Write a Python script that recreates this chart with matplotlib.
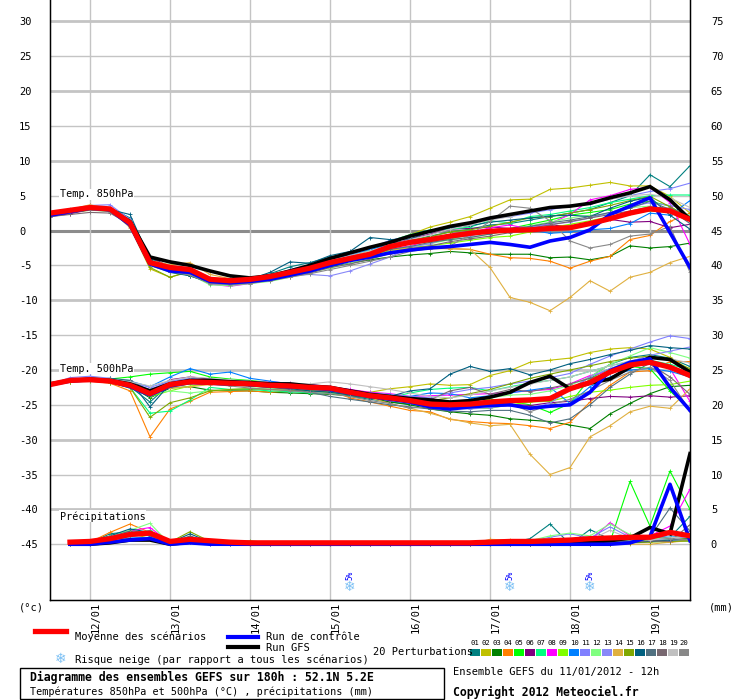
import numpy as np
import matplotlib.pyplot as plt
from matplotlib.lines import Line2D
from matplotlib.patches import Rectangle

# ------------------------------------------------------------
# data (6-hourly steps from 11/01 12h)
# ------------------------------------------------------------
HOURS = np.arange(33) * 6
HOURS_PR = np.arange(1, 33) * 6

DAY_LABELS = ["12/01", "13/01", "14/01", "15/01", "16/01", "17/01", "18/01", "19/01"]
DAY_HOURS = [12, 36, 60, 84, 108, 132, 156, 180]

PERT_COLORS = ["#008080", "#c0c000", "#008000", "#ff8000", "#00ff00",
               "#800080", "#00ff80", "#ff00ff", "#80ff00", "#0080ff",
               "#8080ff", "#80ff80", "#8888f8", "#e0b040", "#80a800",
               "#006080", "#507080", "#786870", "#c0c0c0", "#888888"]

# --- T850 ---
t850_mean = [2.5, 2.9, 3.3, 3.1, 1.1, -4.6, -5.3, -5.6, -7.0, -7.2, -7.0, -6.6, -6.0, -5.4, -4.6, -4.0, -3.4,
             -2.3, -1.7, -1.3, -0.8, -0.4, -0.1, 0.05, 0.1, 0.3, 0.4, 1.0, 1.7, 2.5, 3.1, 2.8, 1.6]
t850_ctrl = [2.2, 2.7, 3.2, 3.0, 0.8, -4.8, -5.8, -6.0, -7.3, -7.5, -7.3, -7.0, -6.4, -5.8, -5.0, -4.3, -3.8,
             -3.2, -2.8, -2.5, -2.3, -2.0, -1.7, -2.0, -2.4, -1.5, -1.0, 0.1, 2.3, 3.5, 4.7, -0.3, -5.3]
t850_gfs = [2.3, 2.8, 3.3, 3.0, 1.3, -3.8, -4.5, -5.0, -5.8, -6.5, -6.8, -6.5, -5.8, -5.0, -4.0, -3.2, -2.4,
            -1.7, -0.8, -0.1, 0.6, 1.1, 1.8, 2.3, 2.8, 3.3, 3.5, 3.9, 4.7, 5.4, 6.3, 4.4, 1.6]
t850_p01 = [2.6, 3.0, 3.4, 3.3, 1.8, -4.0, -5.2, -5.5, -7.2, -7.4, -7.0, -6.2, -5.2, -4.6, -3.8, -3.2, -2.6,
            -1.8, -1.5, -0.8, -0.2, 0.2, 0.8, 1.0, 1.5, 2.0, 2.5, 3.0, 4.0, 5.0, 8.0, 6.3, 9.3]
t850_p02 = [2.4, 2.8, 3.5, 3.0, 0.5, -5.5, -6.7, -5.8, -7.3, -7.6, -7.2, -6.8, -6.2, -5.5, -4.5, -3.8, -2.8,
            -1.6, -0.6, 0.5, 1.2, 2.0, 3.2, 4.4, 4.5, 5.9, 6.1, 6.5, 6.9, 6.4, 6.4, 4.9, 2.5]
t850_p03 = [2.3, 2.7, 3.1, 2.8, 0.8, -4.9, -5.7, -6.5, -7.4, -7.6, -7.3, -7.0, -6.5, -5.9, -5.2, -4.7, -4.2,
            -3.8, -3.5, -3.3, -3.0, -3.2, -3.4, -3.4, -3.4, -3.9, -3.8, -4.2, -3.7, -2.2, -2.5, -2.3, -1.8]
t850_p04 = [2.4, 2.9, 3.6, 3.2, 0.6, -4.3, -5.0, -5.4, -6.8, -7.0, -6.9, -6.8, -6.3, -5.8, -4.9, -4.0, -3.2,
            -2.8, -2.6, -2.5, -2.6, -2.7, -3.4, -3.9, -4.0, -4.4, -5.4, -4.4, -3.7, -1.3, -0.7, 1.3, 2.5]
t850_p05 = [2.2, 2.7, 3.2, 3.0, 1.0, -4.8, -5.6, -6.0, -7.5, -7.8, -7.5, -7.0, -6.2, -5.6, -4.8, -4.0, -3.1,
            -2.4, -1.8, -1.6, -1.2, -0.6, -0.2, 0.3, 0.9, 1.5, 2.2, 2.6, 3.0, 3.8, 4.2, 3.5, 1.5]
t850_p06 = [2.0, 2.4, 3.0, 3.0, 1.5, -3.8, -5.2, -5.8, -7.1, -7.3, -7.1, -6.6, -6.0, -5.1, -4.4, -3.4, -2.6,
            -2.1, -1.2, -0.5, 0.2, 0.3, 0.5, 0.3, 0.6, 0.8, 0.6, 1.2, 1.6, 1.2, 1.3, 0.4, 0.9]
t850_p07 = [2.1, 2.6, 3.0, 2.9, 0.9, -4.5, -5.7, -5.4, -7.6, -7.8, -7.4, -7.0, -6.3, -5.3, -4.4, -3.6, -2.8,
            -1.5, -0.6, 0.1, 0.2, 0.5, 1.4, 1.1, 2.0, 2.3, 2.8, 3.3, 4.0, 4.5, 5.0, 5.1, 5.1]
t850_p08 = [2.3, 2.8, 3.2, 3.0, 1.2, -4.8, -5.9, -6.2, -7.7, -8.0, -7.6, -7.0, -6.4, -5.8, -4.9, -4.3, -3.6,
            -2.7, -2.2, -1.4, -0.9, -0.3, 0.4, 0.8, 0.2, 1.0, 2.3, 4.4, 5.0, 5.9, 6.2, 4.0, -2.0]
t850_p09 = [2.4, 2.8, 3.2, 2.9, 0.9, -4.7, -5.5, -6.1, -7.4, -7.7, -7.3, -6.9, -6.2, -5.6, -4.8, -4.1, -3.5,
            -2.9, -2.4, -2.2, -1.8, -1.4, -1.0, -0.8, -0.2, 0.4, 0.9, 1.4, 2.0, 2.5, 2.8, 2.6, 2.0]
t850_p10 = [2.3, 2.9, 3.3, 3.1, 1.3, -4.4, -5.3, -5.7, -6.9, -7.1, -6.9, -6.5, -5.8, -5.2, -4.2, -3.6, -2.7,
            -2.1, -1.5, -1.0, -0.6, -0.1, 0.0, -0.2, 0.1, -0.4, -0.2, 0.1, 0.3, 1.0, 2.5, 2.2, 4.3]
t850_p11 = [2.4, 3.0, 3.6, 3.7, 1.6, -4.2, -5.4, -5.3, -7.0, -7.4, -7.2, -6.7, -5.6, -4.9, -4.1, -3.3, -2.5,
            -1.4, -0.8, -0.2, 0.4, 1.0, 1.6, 2.0, 2.5, 3.0, 3.5, 3.8, 4.5, 5.0, 5.6, 6.0, 6.8]
t850_p12 = [2.2, 2.6, 3.1, 2.7, 0.6, -5.0, -6.0, -6.3, -7.8, -7.9, -7.6, -7.3, -6.7, -6.0, -5.4, -4.7, -3.9,
            -3.0, -2.3, -1.9, -1.3, -1.0, -0.5, 0.0, 0.7, 1.2, 1.8, 2.2, 2.4, 3.3, 3.5, 3.0, 2.2]
t850_p13 = [2.3, 2.7, 3.1, 3.2, 1.4, -4.5, -5.5, -5.9, -7.2, -7.6, -7.4, -6.9, -6.5, -6.3, -6.5, -5.8, -4.8,
            -3.8, -2.4, -1.9, -1.0, -0.8, -0.1, 0.2, 0.5, 0.9, 1.2, 1.8, 2.6, 3.4, 4.0, 3.6, 3.0]
t850_p14 = [2.5, 3.0, 3.7, 3.1, 0.4, -4.3, -4.9, -4.6, -6.3, -6.9, -6.8, -6.5, -6.2, -5.6, -5.0, -4.0, -3.2,
            -2.8, -2.5, -2.6, -2.6, -2.7, -5.3, -9.6, -10.3, -11.5, -9.6, -7.2, -8.7, -6.7, -6.0, -4.6, -3.7]
t850_p15 = [2.2, 2.6, 2.9, 2.8, 0.7, -5.3, -6.7, -5.9, -7.2, -7.5, -7.2, -6.8, -6.2, -5.5, -4.6, -4.0, -3.3,
            -2.2, -1.4, -0.9, -0.2, 0.1, 0.6, 1.2, 1.8, 2.0, 2.5, 3.0, 3.6, 4.3, 4.9, 3.4, 1.8]
t850_p16 = [2.6, 3.0, 3.2, 3.0, 2.3, -4.1, -6.0, -6.5, -7.5, -7.6, -7.0, -6.0, -4.5, -4.7, -3.6, -3.0, -1.0,
            -1.3, -1.2, -0.2, 0.4, 0.7, 1.2, 1.5, 1.8, 2.1, 2.2, 2.0, 3.2, 4.2, 4.8, 2.2, 0.2]
t850_p17 = [2.3, 2.8, 3.1, 3.1, 1.2, -4.6, -5.5, -6.0, -7.3, -7.5, -7.2, -6.8, -6.1, -5.5, -4.7, -4.1, -3.5,
            -2.7, -2.3, -1.7, -1.3, -1.0, -0.5, 0.1, 0.6, 1.1, 1.5, 2.0, 2.6, 3.2, 4.2, 3.0, 1.0]
t850_p18 = [2.0, 2.3, 2.6, 2.5, 0.9, -4.9, -5.8, -6.2, -7.4, -7.7, -7.5, -7.1, -6.6, -6.1, -5.3, -4.8, -4.1,
            -3.3, -2.6, -2.2, -1.6, -1.2, -0.8, -0.3, 0.3, 0.8, 1.3, 1.8, 2.3, 2.8, 3.4, 3.2, 2.0]
t850_p19 = [2.6, 3.1, 3.5, 3.3, 1.5, -4.4, -5.1, -5.3, -6.8, -7.1, -6.8, -6.4, -5.8, -5.1, -4.3, -3.6, -2.9,
            -2.1, -1.3, -0.6, 0.2, 0.8, 1.5, 2.0, 2.8, 3.2, 3.5, 4.0, 4.5, 5.0, 5.2, 4.7, 3.3]
t850_p20 = [2.4, 2.8, 3.0, 2.7, 0.7, -5.0, -5.9, -6.4, -7.6, -7.8, -7.6, -7.2, -6.7, -6.2, -5.6, -5.0, -4.4,
            -3.8, -3.0, -2.6, -2.2, -0.6, 1.3, 3.5, 3.2, 1.4, -1.5, -2.5, -2.0, -0.8, -0.5, 0.6, -6.0]

# --- T500 ---
t500_mean = [-22.1, -21.5, -21.4, -21.6, -22.2, -23.4, -22.1, -21.7, -21.8, -21.9, -22.0, -22.2, -22.3,
             -22.5, -22.6, -23.2, -23.7, -24.0, -24.4, -24.9, -25.0, -24.9, -24.6, -24.4, -24.3, -24.1,
             -22.7, -21.8, -20.3, -19.3, -18.9, -19.6, -20.8]
t500_ctrl = [-22.1, -21.6, -21.4, -21.6, -22.4, -23.6, -22.3, -21.8, -21.9, -22.0, -22.1, -22.3, -22.4,
             -22.6, -22.8, -23.3, -23.8, -24.2, -24.6, -25.3, -25.6, -25.3, -25.1, -25.0, -25.5, -25.2,
             -25.0, -23.2, -20.1, -18.9, -18.4, -22.5, -25.8]
t500_gfs = [-22.0, -21.5, -21.3, -21.5, -22.0, -23.0, -22.0, -21.5, -21.5, -21.7, -21.8, -22.0, -22.0,
            -22.3, -22.5, -23.0, -23.5, -23.8, -24.1, -24.3, -24.6, -24.4, -23.9, -23.2, -21.8, -20.9,
            -22.7, -21.9, -21.3, -19.6, -18.2, -18.5, -20.3]
t500_p01 = [-22.0, -21.4, -21.2, -21.5, -22.4, -24.6, -22.0, -21.3, -21.5, -21.6, -21.8, -22.0, -22.4,
            -22.9, -23.2, -23.8, -24.2, -24.6, -24.9, -25.3, -25.6, -25.2, -25.0, -24.7, -24.4, -24.5,
            -22.8, -21.0, -19.2, -18.2, -17.8, -18.3, -19.5]
t500_p02 = [-22.2, -21.6, -21.4, -21.8, -22.3, -23.0, -22.5, -22.0, -21.6, -21.8, -22.0, -22.3, -22.6,
            -22.8, -22.5, -22.9, -23.2, -22.7, -22.4, -22.0, -22.2, -22.1, -20.8, -20.1, -18.9, -18.6,
            -18.3, -17.5, -17.0, -16.8, -17.0, -18.2, -20.0]
t500_p03 = [-22.2, -21.7, -21.6, -21.7, -22.3, -24.0, -22.6, -22.4, -22.9, -23.0, -23.0, -23.2, -23.3,
            -23.4, -23.5, -23.7, -24.0, -24.6, -25.0, -25.6, -26.0, -26.3, -26.5, -27.0, -27.2, -27.4,
            -27.9, -28.4, -26.3, -24.8, -23.4, -22.4, -22.2]
t500_p04 = [-22.1, -21.7, -21.6, -21.9, -23.0, -29.6, -25.6, -24.5, -23.2, -23.1, -23.0, -23.2, -23.0,
            -22.8, -23.0, -24.0, -24.6, -25.2, -25.8, -26.0, -27.1, -27.4, -27.6, -27.7, -28.0, -28.4,
            -27.5, -24.6, -22.2, -20.3, -20.1, -18.8, -18.8]
t500_p05 = [-22.0, -21.4, -21.2, -21.3, -21.0, -20.6, -20.4, -20.2, -21.0, -21.3, -21.5, -21.8, -22.0,
            -22.4, -22.6, -23.0, -23.4, -23.6, -24.0, -24.6, -25.0, -24.3, -24.2, -24.5, -25.0, -26.1,
            -24.8, -21.2, -19.8, -19.5, -19.8, -23.0, -25.8]
t500_p06 = [-22.1, -21.5, -21.3, -21.5, -22.0, -23.2, -21.4, -21.0, -21.3, -21.5, -21.7, -22.0, -22.2,
            -22.4, -22.7, -23.2, -23.6, -23.7, -24.0, -24.2, -24.5, -24.8, -24.7, -24.9, -25.1, -24.7,
            -24.5, -24.1, -23.8, -23.9, -23.7, -23.9, -23.7]
t500_p07 = [-22.2, -21.6, -21.5, -21.7, -22.5, -26.2, -25.9, -24.3, -22.5, -22.8, -22.8, -23.0, -23.1,
            -23.3, -23.3, -23.4, -23.8, -24.0, -23.3, -22.8, -22.6, -22.5, -23.0, -22.4, -21.9, -21.5,
            -21.0, -20.2, -19.4, -18.8, -18.6, -19.2, -20.0]
t500_p08 = [-22.0, -21.5, -21.3, -21.5, -22.0, -23.5, -22.0, -21.4, -21.5, -21.6, -21.8, -21.7, -21.9,
            -22.1, -22.4, -22.8, -23.2, -23.4, -23.8, -23.7, -23.6, -23.5, -23.4, -23.2, -23.0, -22.8,
            -22.0, -20.8, -20.2, -19.3, -19.0, -19.8, -24.5]
t500_p09 = [-22.1, -21.5, -21.4, -21.6, -22.2, -23.8, -23.0, -22.3, -22.0, -22.2, -22.3, -22.5, -22.6,
            -22.8, -23.0, -23.3, -23.7, -24.2, -24.5, -24.9, -25.2, -25.5, -25.5, -25.0, -24.6, -24.5,
            -23.8, -23.2, -22.9, -22.5, -22.2, -22.1, -21.6]
t500_p10 = [-22.0, -21.4, -21.2, -21.3, -21.6, -22.4, -21.0, -19.8, -20.6, -20.3, -21.2, -21.6, -22.0,
            -22.4, -23.0, -23.6, -24.0, -24.0, -23.8, -23.3, -23.4, -24.0, -23.7, -23.3, -22.9, -22.5,
            -24.8, -22.4, -21.0, -20.0, -19.8, -20.2, -21.0]
t500_p11 = [-22.1, -21.1, -20.9, -21.2, -21.8, -22.5, -21.6, -21.2, -21.5, -21.7, -21.8, -22.0, -22.1,
            -22.3, -22.5, -23.0, -23.3, -23.5, -23.8, -24.0, -23.3, -22.8, -22.5, -22.0, -21.6, -21.1,
            -20.5, -19.2, -18.0, -17.0, -16.0, -15.1, -15.5]
t500_p12 = [-22.2, -21.6, -21.6, -21.8, -22.6, -23.5, -23.0, -23.3, -23.0, -22.8, -22.6, -22.6, -22.7,
            -22.9, -23.3, -23.5, -24.0, -24.2, -24.3, -24.4, -24.6, -24.3, -24.0, -23.6, -23.5, -23.0,
            -22.2, -21.0, -19.2, -18.0, -16.8, -17.5, -18.3]
t500_p13 = [-22.1, -21.5, -21.3, -21.4, -21.9, -22.8, -21.6, -21.4, -21.6, -21.8, -21.9, -22.0, -22.2,
            -22.4, -22.6, -23.1, -23.6, -24.1, -24.8, -25.2, -25.5, -25.6, -25.4, -25.1, -25.5, -24.8,
            -22.8, -21.0, -19.8, -18.8, -17.9, -17.3, -16.7]
t500_p14 = [-22.1, -21.6, -21.5, -21.7, -22.3, -23.0, -22.6, -22.4, -22.1, -22.0, -21.9, -22.1, -22.3,
            -22.6, -22.9, -23.4, -24.0, -24.8, -25.5, -26.2, -27.0, -27.6, -28.0, -27.8, -32.1, -35.0,
            -34.0, -29.6, -28.0, -26.0, -25.2, -25.5, -22.7]
t500_p15 = [-22.2, -21.7, -21.5, -21.8, -22.5, -26.8, -24.7, -24.0, -23.0, -22.8, -22.7, -22.8, -22.9,
            -23.0, -23.2, -23.5, -23.8, -24.2, -24.6, -24.4, -24.0, -23.4, -22.8, -22.0, -21.2, -20.6,
            -20.0, -19.4, -18.8, -18.3, -18.0, -18.6, -19.8]
t500_p16 = [-22.1, -21.5, -21.4, -21.2, -21.5, -25.3, -22.0, -21.6, -21.8, -21.9, -22.2, -22.4, -22.7,
            -23.0, -23.2, -23.6, -24.0, -23.8, -23.0, -22.7, -20.6, -19.5, -20.2, -19.8, -20.7, -20.0,
            -19.1, -18.5, -17.8, -17.2, -16.5, -16.8, -17.0]
t500_p17 = [-22.1, -21.5, -21.3, -21.4, -21.5, -23.0, -21.8, -21.6, -21.8, -22.0, -22.3, -22.5, -22.8,
            -23.2, -23.8, -24.2, -24.6, -25.0, -25.3, -25.6, -25.9, -26.0, -25.8, -25.8, -26.5, -27.6,
            -27.0, -25.0, -22.5, -20.6, -19.0, -19.5, -20.4]
t500_p18 = [-22.0, -21.5, -21.4, -21.6, -22.1, -23.2, -22.0, -21.7, -21.8, -22.0, -22.1, -22.3, -22.4,
            -22.6, -22.8, -23.4, -23.9, -24.4, -24.6, -24.3, -23.0, -22.5, -23.5, -22.8, -23.1, -22.6,
            -22.0, -21.2, -20.4, -19.5, -19.2, -21.0, -23.5]
t500_p19 = [-22.1, -21.4, -21.1, -21.3, -21.7, -22.3, -21.5, -21.0, -21.2, -21.4, -21.6, -21.8, -21.9,
            -22.0, -21.7, -22.0, -22.4, -22.8, -23.3, -23.8, -24.0, -23.6, -23.0, -22.5, -22.0, -21.5,
            -21.0, -20.2, -19.4, -18.7, -18.2, -18.4, -19.0]
t500_p20 = [-22.2, -21.6, -21.5, -21.7, -22.0, -23.0, -21.8, -21.6, -22.0, -22.3, -22.6, -22.8, -23.0,
            -23.2, -23.4, -23.8, -24.4, -24.8, -25.5, -25.2, -25.1, -24.8, -24.4, -24.8, -26.0, -25.0,
            -24.2, -23.0, -21.5, -20.3, -19.6, -21.5, -25.9]

# --- precipitation (mm, from +6h) ---
pr_mean = [0.3, 0.4, 0.8, 1.4, 1.6, 0.4, 0.7, 0.5, 0.3, 0.2, 0.2, 0.2, 0.2, 0.2, 0.2, 0.2,
           0.2, 0.2, 0.2, 0.2, 0.2, 0.3, 0.4, 0.4, 0.5, 0.6, 0.8, 0.9, 1.0, 1.0, 1.7, 1.2]
pr_ctrl = [0.0, 0.0, 0.3, 0.6, 0.8, 0.0, 0.2, 0.0, 0.0, 0.0, 0.0, 0.0, 0.0, 0.0, 0.0, 0.0,
           0.0, 0.0, 0.0, 0.0, 0.0, 0.0, 0.0, 0.0, 0.0, 0.0, 0.0, 0.0, 0.2, 1.1, 8.6, 0.5]
pr_gfs = [0.0, 0.0, 0.2, 0.6, 0.6, 0.0, 0.3, 0.2, 0.1, 0.0, 0.0, 0.0, 0.0, 0.0, 0.0, 0.0,
          0.0, 0.0, 0.0, 0.0, 0.0, 0.0, 0.0, 0.0, 0.0, 0.0, 0.3, 0.5, 0.9, 2.4, 1.5, 13.0]
pr_p01 = [0.0, 0.2, 1.5, 1.8, 1.2, 0.2, 0.6, 0.3, 0.2, 0.0, 0.0, 0.0, 0.0, 0.0, 0.0, 0.0,
          0.0, 0.0, 0.0, 0.0, 0.0, 0.0, 0.2, 0.8, 2.9, 0.0, 2.1, 0.7, 0.5, 0.6, 1.0, 4.0]
pr_p02 = [0.0, 0.3, 1.0, 1.6, 0.8, 0.2, 0.4, 0.2, 0.1, 0.0, 0.0, 0.0, 0.0, 0.0, 0.0, 0.0,
          0.0, 0.0, 0.0, 0.0, 0.0, 0.0, 0.0, 0.0, 0.0, 0.0, 0.0, 0.3, 0.2, 0.4, 0.6, 0.9]
pr_p03 = [0.0, 0.2, 0.9, 1.4, 1.5, 0.0, 0.5, 0.2, 0.0, 0.0, 0.0, 0.0, 0.0, 0.0, 0.0, 0.0,
          0.0, 0.0, 0.0, 0.0, 0.0, 0.0, 0.0, 0.0, 0.0, 0.0, 0.2, 0.3, 0.2, 0.5, 0.3, 0.8]
pr_p04 = [0.0, 0.3, 1.7, 2.9, 1.7, 0.3, 0.7, 0.3, 0.2, 0.1, 0.0, 0.0, 0.0, 0.0, 0.0, 0.0,
          0.0, 0.0, 0.0, 0.0, 0.0, 0.0, 0.0, 0.0, 0.0, 0.0, 0.0, 0.2, 0.4, 0.5, 0.3, 0.6]
pr_p05 = [0.0, 0.2, 1.0, 1.5, 1.6, 0.2, 0.6, 0.2, 0.0, 0.0, 0.0, 0.0, 0.0, 0.0, 0.0, 0.0,
          0.0, 0.0, 0.0, 0.0, 0.0, 0.0, 0.0, 0.0, 0.0, 0.0, 0.0, 0.3, 9.0, 2.6, 10.5, 5.0]
pr_p06 = [0.0, 0.1, 0.6, 1.2, 1.3, 0.0, 0.3, 0.1, 0.0, 0.0, 0.0, 0.0, 0.0, 0.0, 0.0, 0.0,
          0.0, 0.0, 0.0, 0.0, 0.0, 0.0, 0.0, 0.0, 0.0, 0.0, 0.0, 0.0, 0.3, 0.4, 0.5, 0.7]
pr_p07 = [0.0, 0.2, 0.8, 1.3, 2.0, 0.0, 0.4, 0.3, 0.0, 0.0, 0.0, 0.0, 0.0, 0.0, 0.0, 0.0,
          0.0, 0.0, 0.0, 0.0, 0.0, 0.0, 0.0, 0.0, 0.2, 0.3, 0.2, 0.4, 0.6, 0.8, 0.5, 0.4]
pr_p08 = [0.0, 0.3, 1.1, 1.9, 2.4, 0.2, 0.6, 0.2, 0.0, 0.0, 0.0, 0.0, 0.0, 0.0, 0.0, 0.0,
          0.0, 0.0, 0.0, 0.0, 0.0, 0.0, 0.0, 0.0, 0.0, 0.3, 0.5, 3.1, 1.2, 1.2, 2.6, 7.9]
pr_p09 = [0.0, 0.2, 0.9, 1.5, 1.8, 0.1, 0.5, 0.3, 0.1, 0.0, 0.0, 0.0, 0.0, 0.0, 0.0, 0.0,
          0.0, 0.0, 0.0, 0.0, 0.0, 0.0, 0.0, 0.0, 0.0, 0.0, 0.2, 0.4, 0.3, 0.6, 0.8, 1.5]
pr_p10 = [0.0, 0.0, 0.7, 0.9, 1.0, 0.0, 0.3, 0.1, 0.0, 0.0, 0.0, 0.0, 0.0, 0.0, 0.0, 0.0,
          0.0, 0.0, 0.0, 0.0, 0.0, 0.0, 0.0, 0.0, 0.0, 0.0, 0.0, 0.0, 0.6, 1.2, 1.0, 1.3]
pr_p11 = [0.0, 0.2, 1.0, 1.6, 1.9, 0.1, 0.5, 0.2, 0.0, 0.0, 0.0, 0.0, 0.0, 0.0, 0.0, 0.0,
          0.0, 0.0, 0.0, 0.0, 0.0, 0.0, 0.0, 0.4, 1.0, 1.5, 0.9, 2.5, 1.0, 0.6, 0.8, 1.1]
pr_p12 = [0.0, 0.3, 1.2, 2.0, 3.0, 0.0, 0.4, 0.2, 0.0, 0.0, 0.0, 0.0, 0.0, 0.0, 0.0, 0.0,
          0.0, 0.0, 0.0, 0.0, 0.0, 0.0, 0.0, 0.5, 1.2, 1.6, 1.2, 2.9, 1.4, 0.8, 0.9, 1.3]
pr_p13 = [0.0, 0.1, 0.8, 1.2, 1.4, 0.0, 0.4, 0.1, 0.0, 0.0, 0.0, 0.0, 0.0, 0.0, 0.0, 0.0,
          0.0, 0.0, 0.0, 0.0, 0.0, 0.0, 0.0, 0.0, 0.0, 0.0, 0.0, 0.2, 0.3, 0.4, 0.5, 0.7]
pr_p14 = [0.0, 0.2, 0.9, 1.4, 1.5, 0.4, 0.6, 0.5, 0.3, 0.2, 0.0, 0.0, 0.0, 0.0, 0.0, 0.0,
          0.0, 0.0, 0.0, 0.0, 0.0, 0.7, 0.6, 0.2, 0.0, 0.0, 0.0, 0.0, 0.0, 0.0, 0.3, 0.5]
pr_p15 = [0.0, 0.2, 0.9, 1.5, 1.6, 0.3, 1.8, 0.4, 0.2, 0.5, 0.2, 0.0, 0.0, 0.0, 0.0, 0.0,
          0.0, 0.0, 0.0, 0.0, 0.0, 0.0, 0.0, 0.0, 0.0, 0.0, 0.0, 0.0, 0.2, 0.3, 0.4, 0.5]
pr_p16 = [0.0, 0.3, 1.2, 2.2, 1.7, 0.2, 1.5, 0.3, 0.2, 0.0, 0.0, 0.0, 0.0, 0.0, 0.0, 0.0,
          0.0, 0.0, 0.0, 0.0, 0.0, 0.0, 0.0, 0.0, 0.0, 0.0, 0.0, 0.2, 0.3, 0.4, 0.6, 0.8]
pr_p17 = [0.0, 0.2, 1.0, 1.9, 1.7, 0.1, 1.2, 0.2, 0.0, 0.0, 0.0, 0.0, 0.0, 0.0, 0.0, 0.0,
          0.0, 0.0, 0.0, 0.0, 0.0, 0.0, 0.0, 0.0, 0.0, 0.0, 0.0, 0.3, 0.5, 1.0, 5.2, 1.9]
pr_p18 = [0.0, 0.1, 0.8, 1.2, 1.3, 0.0, 0.4, 0.2, 0.0, 0.0, 0.0, 0.0, 0.0, 0.0, 0.0, 0.0,
          0.0, 0.0, 0.0, 0.0, 0.0, 0.0, 0.0, 0.0, 0.0, 0.0, 0.0, 0.2, 0.3, 0.5, 0.4, 2.8]
pr_p19 = [0.0, 0.2, 1.1, 1.6, 1.8, 0.1, 0.5, 0.2, 0.0, 0.0, 0.0, 0.0, 0.0, 0.0, 0.0, 0.0,
          0.0, 0.0, 0.0, 0.0, 0.0, 0.0, 0.0, 0.3, 0.5, 0.7, 0.6, 2.0, 0.8, 0.6, 0.9, 1.2]
pr_p20 = [0.0, 0.2, 0.9, 1.6, 1.9, 0.1, 0.5, 0.2, 0.0, 0.0, 0.0, 0.0, 0.0, 0.0, 0.0, 0.0,
          0.0, 0.0, 0.0, 0.0, 0.0, 0.0, 0.0, 0.0, 0.0, 0.0, 0.0, 0.4, 0.6, 1.1, 0.8, 0.6]

# snow risk (hour, percent)
SNOW_HOURS = [90, 138, 162]
SNOW_PCT = [5, 5, 5]

PR_OFFSET = -45.0   # precipitation drawn on the degC scale, 0 mm at -45

T850_PERTS = [t850_p01, t850_p02, t850_p03, t850_p04, t850_p05, t850_p06, t850_p07, t850_p08, t850_p09,
              t850_p10, t850_p11, t850_p12, t850_p13, t850_p14, t850_p15, t850_p16, t850_p17, t850_p18,
              t850_p19, t850_p20]
T500_PERTS = [t500_p01, t500_p02, t500_p03, t500_p04, t500_p05, t500_p06, t500_p07, t500_p08, t500_p09,
              t500_p10, t500_p11, t500_p12, t500_p13, t500_p14, t500_p15, t500_p16, t500_p17, t500_p18,
              t500_p19, t500_p20]
PR_PERTS = [pr_p01, pr_p02, pr_p03, pr_p04, pr_p05, pr_p06, pr_p07, pr_p08, pr_p09, pr_p10,
            pr_p11, pr_p12, pr_p13, pr_p14, pr_p15, pr_p16, pr_p17, pr_p18, pr_p19, pr_p20]

MONO = "DejaVu Sans Mono"
W, H = 740, 700


def fx(px):
    return px / W


def fy(py):
    return 1 - py / H


# ------------------------------------------------------------
# figure
# ------------------------------------------------------------
fig = plt.figure(figsize=(W / 100, H / 100), dpi=100)
fig.patch.set_facecolor("white")
ax = fig.add_axes([fx(50), fy(600), fx(640), 600 / H])

ax.set_xlim(0, 192)
ax.set_ylim(-53.0, 33.07)

# grid
for v in range(-45, 31, 5):
    if v == 0:
        ax.axhline(v, color="#8c8c8c", lw=2.2, zorder=1)
    elif v % 10 == 0:
        ax.axhline(v, color="#c4c4c4", lw=2.0, zorder=1)
    else:
        ax.axhline(v, color="#c4c4c4", lw=1.0, zorder=1)
for h in DAY_HOURS:
    ax.axvline(h, color="#c4c4c4", lw=1.0, zorder=1)

# section labels
for txt, v in [("Temp. 850hPa", 5.2), ("Temp. 500hPa", -19.8), ("Précipitations", -41.0)]:
    ax.text(3, v, txt, fontsize=7.3, family=MONO, va="center", ha="left", zorder=2,
            bbox=dict(facecolor="white", edgecolor="none", pad=0.5))

# perturbations
for i, col in enumerate(PERT_COLORS):
    kw = dict(color=col, lw=0.8, marker="+", ms=3, mew=0.6, zorder=3)
    ax.plot(HOURS, T850_PERTS[i], **kw)
    ax.plot(HOURS, T500_PERTS[i], **kw)
    ax.plot(HOURS_PR, np.array(PR_PERTS[i]) + PR_OFFSET, **kw)

# GFS, control, mean
for series, hrs, off in [(t850_gfs, HOURS, 0), (t500_gfs, HOURS, 0), (pr_gfs, HOURS_PR, PR_OFFSET)]:
    ax.plot(hrs, np.array(series) + off, color="black", lw=2.6, zorder=4, solid_joinstyle="miter")
for series, hrs, off in [(t850_ctrl, HOURS, 0), (t500_ctrl, HOURS, 0), (pr_ctrl, HOURS_PR, PR_OFFSET)]:
    ax.plot(hrs, np.array(series) + off, color="#0000ff", lw=2.6, zorder=5)
for series, hrs, off in [(t850_mean, HOURS, 0), (t500_mean, HOURS, 0), (pr_mean, HOURS_PR, PR_OFFSET)]:
    ax.plot(hrs, np.array(series) + off, color="#ff0000", lw=3.8, zorder=6)

# snow risk
for h, p in zip(SNOW_HOURS, SNOW_PCT):
    ax.text(h, -51.1, "\u2744", color="#7cc0f4", fontsize=10, ha="center", va="center",
            family="DejaVu Sans", fontweight="bold", zorder=7)
    ax.text(h, -49.4, f"{p}%", color="#0000ff", fontsize=5.5, rotation=90, ha="center",
            va="center", family=MONO, zorder=7)

# axes style
for side in ["left", "bottom", "right"]:
    ax.spines[side].set_color("black")
    ax.spines[side].set_linewidth(1.0)
ax.spines["top"].set_visible(False)

yt = list(range(-45, 31, 5))
ax.set_yticks(yt)
ax.set_yticklabels([str(v) for v in yt], family=MONO, fontsize=7.5, ha="left")
ax.tick_params(axis="y", length=0, pad=22.3)
ax.set_xticks([])

ax2 = ax.twinx()
ax2.set_ylim(ax.get_ylim())
ax2.set_yticks(yt)
ax2.set_yticklabels([str(v + 45) for v in yt], family=MONO, fontsize=7.5)
ax2.tick_params(axis="y", length=0, pad=15)
ax2.spines["top"].set_visible(False)
ax2.set_xticks([])

# date labels
for lab, h in zip(DAY_LABELS, DAY_HOURS):
    xpix = 50 + h * 640 / 192
    fig.text(fx(xpix + 6), fy(602), lab, rotation=90, ha="center", va="top",
             fontsize=7.5, family=MONO)
fig.text(fx(31), fy(607), "(°c)", ha="center", va="center", fontsize=7.5, family=MONO)
fig.text(fx(721), fy(607), "(mm)", ha="center", va="center", fontsize=7.5, family=MONO)

# ------------------------------------------------------------
# legend
# ------------------------------------------------------------
fig.add_artist(Line2D([fx(35), fx(66)], [fy(631), fy(631)], color="#ff0000", lw=3.8))
fig.text(fx(75), fy(637), "Moyenne des scénarios", fontsize=7.5, family=MONO, va="center")
fig.add_artist(Line2D([fx(228), fx(258)], [fy(637), fy(637)], color="#0000ff", lw=3.0))
fig.text(fx(266), fy(637), "Run de contrôle", fontsize=7.5, family=MONO, va="center")
fig.add_artist(Line2D([fx(228), fx(258)], [fy(647), fy(647)], color="black", lw=3.0))
fig.text(fx(266), fy(648), "Run GFS", fontsize=7.5, family=MONO, va="center")
fig.text(fx(61), fy(659), "\u2744", color="#7cc0f4", fontsize=10, ha="center", va="center",
         family="DejaVu Sans", fontweight="bold")
fig.text(fx(75), fy(660), "Risque neige (par rapport a tous les scénarios)", fontsize=7.5,
         family=MONO, va="center")
fig.text(fx(373), fy(652), "20 Perturbations", fontsize=7.5, family=MONO, va="center")

for i, col in enumerate(PERT_COLORS):
    x0 = 470 + i * 11
    fig.add_artist(Rectangle((fx(x0), fy(656)), 10 / W, 7 / H, facecolor=col,
                             edgecolor="none", transform=fig.transFigure))
    fig.text(fx(x0 + 5), fy(643), f"{i + 1:02d}", fontsize=5.2, family=MONO,
             ha="center", va="center")

fig.add_artist(Rectangle((fx(20), fy(699)), 424 / W, 31 / H, facecolor="none",
                         edgecolor="black", lw=1.0, transform=fig.transFigure))
fig.text(fx(30), fy(677), "Diagramme des ensembles GEFS sur 180h : 52.1N 5.2E", fontsize=8.3,
         family=MONO, fontweight="bold", va="center")
fig.text(fx(30), fy(692), "Températures 850hPa et 500hPa (°C) , précipitations (mm)",
         fontsize=7.3, family=MONO, va="center")
fig.text(fx(453), fy(672), "Ensemble GEFS du 11/01/2012 - 12h", fontsize=7.5, family=MONO,
         va="center")
fig.text(fx(453), fy(692), "Copyright 2012 Meteociel.fr", fontsize=8.3, family=MONO,
         fontweight="bold", va="center")

fig.savefig("out.png", dpi=100)
